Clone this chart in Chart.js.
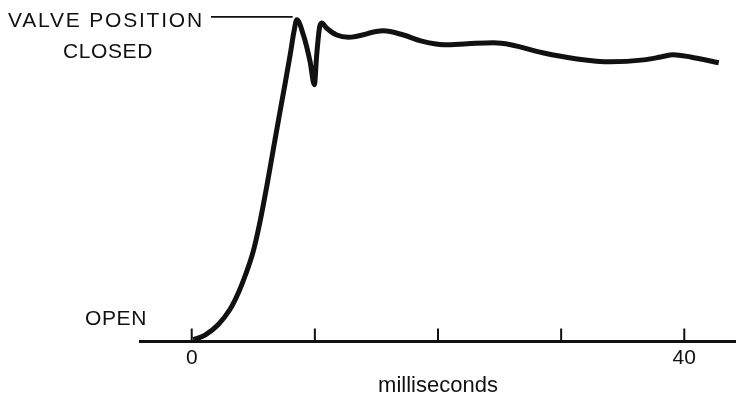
<!DOCTYPE html>
<html>
<head>
<meta charset="utf-8">
<script src="https://cdn.jsdelivr.net/npm/chart.js@4"></script>
<style>
  html, body { margin:0; padding:0; background:#fff; }
  #wrap { width:736px; height:400px; }
</style>
</head>
<body>
<div id="wrap"><canvas id="valveChart"></canvas></div>
<script>
// valve travel trace, time in ms, position 0 = open, 1 = closed
const timeMs = [0.13, 1.08, 2.16, 3.1, 3.8, 4.4, 5.0, 5.55, 6.1, 6.6, 7.1, 7.6, 8.0, 8.3, 8.53, 9.07, 9.61, 9.96, 10.15, 10.37, 10.56, 10.97, 11.78, 12.72, 15.56, 17.2, 18.6, 20.5, 22.4, 24.5, 25.9, 28.5, 31.3, 34.0, 36.7, 38.1, 39.1, 40.5, 42.8];
const position = [0.005, 0.02, 0.053, 0.099, 0.152, 0.21, 0.28, 0.372, 0.482, 0.59, 0.698, 0.803, 0.89, 0.96, 0.997, 0.95, 0.868, 0.796, 0.889, 0.971, 0.987, 0.971, 0.95, 0.943, 0.963, 0.95, 0.932, 0.92, 0.923, 0.926, 0.92, 0.895, 0.876, 0.867, 0.873, 0.882, 0.889, 0.882, 0.864];
const tickVals = [0, 10, 20, 30, 40];
const tickLabels = ['0', '', '', '', '40'];
const xTitle = 'milliseconds';
const closedLabel = ['VALVE POSITION', 'CLOSED'];
const openLabel = 'OPEN';

const FONT = '"Liberation Sans", Arial, sans-serif';

// upward tick marks + side labels
const decor = {
  id: 'decor',
  afterDraw(chart){
    const {ctx, scales:{x, y}} = chart;
    const base = x.top;
    ctx.save();
    ctx.strokeStyle = '#111';
    ctx.lineWidth = 2;
    tickVals.forEach(v=>{
      const px = x.getPixelForValue(v);
      ctx.beginPath(); ctx.moveTo(px, base); ctx.lineTo(px, base - 13); ctx.stroke();
    });
    const yc = y.getPixelForValue(1);
    ctx.fillStyle = '#111';
    ctx.font = '21px ' + FONT;
    ctx.letterSpacing = '1.8px';
    ctx.textBaseline = 'middle';
    ctx.textAlign = 'left';
    ctx.fillText(closedLabel[0], 8, yc + 2);
    ctx.lineWidth = 1.6;
    ctx.beginPath(); ctx.moveTo(211, yc - 2); ctx.lineTo(x.getPixelForValue(8.2), yc - 2); ctx.stroke();
    ctx.letterSpacing = '0.6px';
    ctx.fillText(closedLabel[1], 63, yc + 33);
    ctx.fillText(openLabel, 85, y.getPixelForValue(0) - 22);
    ctx.restore();
  }
};

new Chart(document.getElementById('valveChart'), {
  type: 'line',
  data: {
    datasets: [{
      data: timeMs.map((t, i) => ({ x: t, y: position[i] })),
      borderColor: '#111',
      borderWidth: 5,
      pointRadius: 0,
      cubicInterpolationMode: 'monotone',
      fill: false
    }]
  },
  options: {
    responsive: true,
    maintainAspectRatio: false,
    animation: false,
    layout: { padding: { left: 140, right: 0, top: 6, bottom: 3.5 } },
    plugins: { legend: { display: false }, tooltip: { enabled: false } },
    scales: {
      x: {
        type: 'linear',
        min: -4.2, max: 44.2,
        afterBuildTicks: s => { s.ticks = tickVals.map(v => ({ value: v })); },
        grid: { display: false, drawTicks: false },
        border: { display: true, color: '#111', width: 3 },
        ticks: {
          padding: 6, color: '#111', maxRotation: 0, autoSkip: false,
          font: { family: FONT, size: 21, lineHeight: 1 },
          callback: (v) => tickLabels[tickVals.indexOf(v)] ?? ''
        },
        title: { display: true, text: xTitle, color: '#111', padding: { top: 0, bottom: 0 }, font: { family: FONT, size: 22, lineHeight: 1 } }
      },
      y: { display: false, min: 0, max: 1.04 }
    }
  },
  plugins: [decor]
});
</script>
</body>
</html>
